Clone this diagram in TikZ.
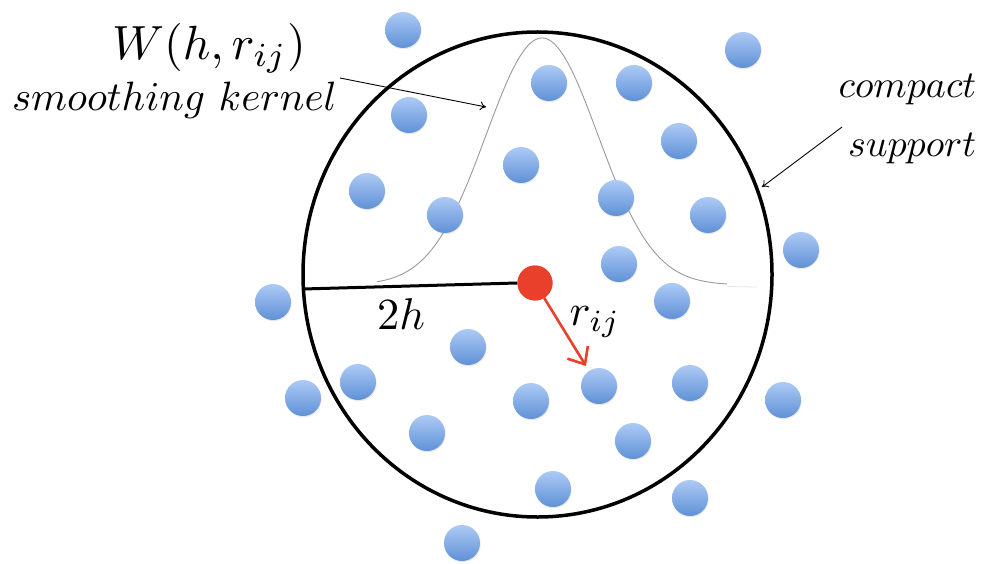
\documentclass[tikz,border=0pt]{standalone}
\usepackage{amsmath}
\usetikzlibrary{arrows.meta,shadows}
\definecolor{ptop}{HTML}{ADCAF5}
\definecolor{pbot}{HTML}{5F91D6}
\definecolor{redpt}{HTML}{E8402A}
\tikzset{
  particle/.style={circle, minimum size=36pt, inner sep=0pt, top color=ptop, bottom color=pbot,
    drop shadow={opacity=0.18, shadow xshift=0.6pt, shadow yshift=-1.2pt}},
  lbl/.style={inner sep=0pt},
  thinarrow/.style={draw=black, line width=0.9pt, -{To[length=6pt,width=9pt]}}
}
\begin{document}
\begin{tikzpicture}[x=1pt,y=-1pt]
\useasboundingbox (0,0) rectangle (987,564);
% compact support
\draw[line width=3.5pt] (537.5,274.5) ellipse [x radius=234.5, y radius=242.5];
% kernel
\draw[gray!80, line width=0.9pt] plot[domain=377:727, samples=160, smooth]
  (\x, {285 - 247*exp(-0.5*((\x-542)/56)^2)});
\draw[gray!20, line width=0.8pt] (727,286.5) -- (757,287);
% radius line
\coordinate (L) at (303,289);
\node[circle, fill=redpt, minimum size=35pt, inner sep=0pt] (red) at (535,283) {};
\draw[line width=3pt] (L) -- (red.west);
\node[circle, fill=redpt, minimum size=35pt, inner sep=0pt] at (535,283) {};
% particles
\foreach \px/\py [count=\i] in {403/30, 549/83, 634/83, 743/50, 409/115, 679/141, 521/165,
  367/191, 445/215, 616/198, 708/215, 801/250, 619/264, 273/302, 672/301, 468/347,
  358/382, 303/398, 531/401, 599/386, 690/383, 783/400, 427/433, 633/441, 553/489,
  690/498, 462/543}
  \node[particle] (p\i) at (\px,\py) {};
% r_ij arrow
\coordinate (tip) at (586,366);
\draw[draw=redpt, line width=2.6pt, -{Straight Barb[length=14pt,width=24pt,line width=2.6pt]}] (red) -- (tip);
% labels
\node[lbl, scale=4.8] (W) at (209,48.5) {$W(h,r_{ij})$};
\node[lbl, scale=4.1] (sk) at (174.5,100) {$smoothing\ kernel$};
\node[lbl, scale=3.8, anchor=east] (cp) at (977,90) {$compact$};
\node[lbl, scale=3.8, anchor=east] (su) at (977,149) {$support$};
\node[lbl, scale=4.45] (twoh) at (401,314) {$2h$};
\node[lbl, scale=4.4] (rij) at (595,322) {$r_{ij}$};
% annotation arrows
\coordinate (a1) at (340,78);
\coordinate (k1) at (486,107);
\draw[thinarrow] (a1) -- (k1);
\coordinate (a2) at (842,127);
\coordinate (c1) at (762,187);
\draw[thinarrow] (a2) -- (c1);
\end{tikzpicture}
\end{document}
